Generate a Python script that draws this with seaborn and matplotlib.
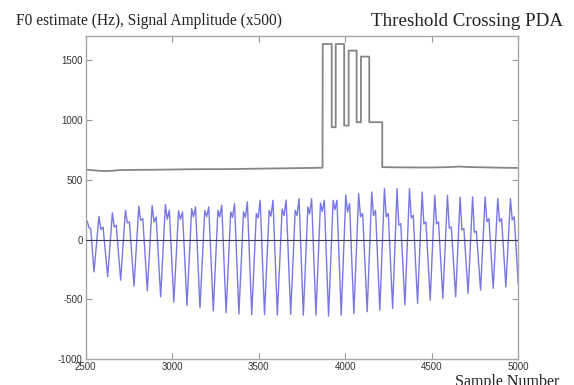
import numpy as np
import pandas as pd
import matplotlib
matplotlib.use("Agg")
import matplotlib.pyplot as plt
import seaborn as sns

# ---------------- data ----------------
# F0 estimate (Hz): breakpoints of the piecewise curve
f0_x = [2500, 2550, 2600, 2650, 2700, 2800, 2900, 3000, 3100, 3200, 3300, 3400,
        3500, 3600, 3700, 3800, 3869,
        3870, 3922, 3922, 3945, 3945, 3994, 3994, 4020, 4020, 4066, 4066, 4091,
        4091, 4139, 4139, 4214, 4214,
        4300, 4400, 4500, 4600, 4660, 4700, 4800, 4900, 5000]
f0_y = [585, 578, 572, 574, 580, 582, 583, 585, 587, 588, 588, 590,
        592, 594, 596, 598, 600,
        1633, 1633, 938, 938, 1633, 1633, 952, 952, 1578, 1578, 980, 980,
        1528, 1528, 980, 980, 605,
        603, 602, 602, 605, 610, 606, 603, 600, 598]

# Signal amplitude (x500): per-cycle landmarks (trough, first peak, dip, second peak)
trough_x = [2549, 2628, 2703, 2780, 2857, 2934, 3010, 3086, 3161, 3238, 3312,
            3386, 3460, 3534, 3608, 3685, 3758, 3831, 3904, 3977, 4050, 4127,
            4200, 4274, 4345, 4418, 4491, 4564, 4638, 4710, 4782, 4855, 4928]
trough_y = [-270, -311, -339, -389, -428, -478, -522, -552, -572, -597, -612,
            -622, -627, -627, -630, -625, -631, -631, -639, -631, -617, -603,
            -589, -575, -545, -533, -506, -492, -478, -450, -422, -408, -395]
peak1_y = [194, 222, 244, 278, 286, 294, 240, 258, 244, 244, 231, 231, 217,
           244, 255, 244, 272, 305, 328, 370, 383, 397, 425, 425, 425, 397,
           369, 369, 355, 355, 355, 342, 342]
dip_y = [83, 105, 139, 161, 147, 170, 170, 190, 190, 190, 185, 185, 180,
         195, 200, 200, 215, 235, 250, 230, 190, 200, 190, 120, 180, 130,
         130, 95, 80, 60, 150, 150, 165]
peak2_y = [105, 119, 147, 175, 189, 244, 230, 272, 272, 286, 300, 314, 328,
           328, 330, 342, 342, 328, 328, 300, 217, 244, 217, 133, 203, 147,
           147, 105, 92, 70, 175, 175, 190]
start_x = [2500, 2510, 2520, 2530]
start_y = [170, 150, 100, 92]
end_x = [5000]
end_y = [-380]
cycle_phase = [0.0, 0.36, 0.50, 0.66]   # position of trough, peak1, dip, peak2

# ---------------- build the signal polyline ----------------
sx = list(start_x)
sy = list(start_y)
for i in range(len(trough_x)):
    t0 = trough_x[i]
    t1 = trough_x[i + 1] if i + 1 < len(trough_x) else trough_x[i] + (trough_x[i] - trough_x[i - 1])
    per = t1 - t0
    vals = [trough_y[i], peak1_y[i], dip_y[i], peak2_y[i]]
    for ph, v in zip(cycle_phase, vals):
        x = t0 + ph * per
        if x <= 5000:
            sx.append(x)
            sy.append(v)
sx += end_x
sy += end_y

sig = pd.DataFrame({"x": sx, "y": sy})
f0 = pd.DataFrame({"x": f0_x, "y": f0_y})

# ---------------- figure ----------------
sns.set_theme(style="white")
plt.rcParams["font.family"] = ["Liberation Sans", "DejaVu Sans"]
plt.rcParams["axes.unicode_minus"] = False

fig = plt.figure(figsize=(5.74, 3.85), dpi=100)
ax = fig.add_axes([0.149, 0.0668, 0.754, 0.8397])

sns.lineplot(data=f0, x="x", y="y", sort=False, estimator=None,
             color="#858585", linewidth=1.3, ax=ax)
sns.lineplot(data=sig, x="x", y="y", sort=False, estimator=None,
             color="#7878e4", linewidth=1.0, ax=ax)
ax.axhline(0, color="#3a3a55", linewidth=0.8, zorder=3)

ax.set_xlim(2500, 5000)
ax.set_ylim(-1000, 1700)
ax.set_xticks([2500, 3000, 3500, 4000, 4500, 5000])
ax.set_yticks([-1000, -500, 0, 500, 1000, 1500])
ax.set_xlabel("")
ax.set_ylabel("")
for s in ax.spines.values():
    s.set_color("#a8a8a8")
    s.set_linewidth(1.0)
ax.tick_params(direction="in", length=4, width=0.8, color="#999999",
               labelsize=7, labelcolor="#333333", top=True, right=True,
               bottom=True, left=True, pad=2)

serif = ["Liberation Serif", "DejaVu Serif"]
fig.text(0.028, 0.945, "F0 estimate (Hz), Signal Amplitude (x500)",
         family=serif, fontsize=11.2, color="#222222", ha="left", va="center")
fig.text(0.981, 0.943, "Threshold Crossing PDA", family=serif, fontsize=13.7,
         color="#222222", ha="right", va="center")
fig.text(0.974, 0.008, "Sample Number", family=serif, fontsize=11.5,
         color="#222222", ha="right", va="center")

fig.savefig("out.png", dpi=100)
